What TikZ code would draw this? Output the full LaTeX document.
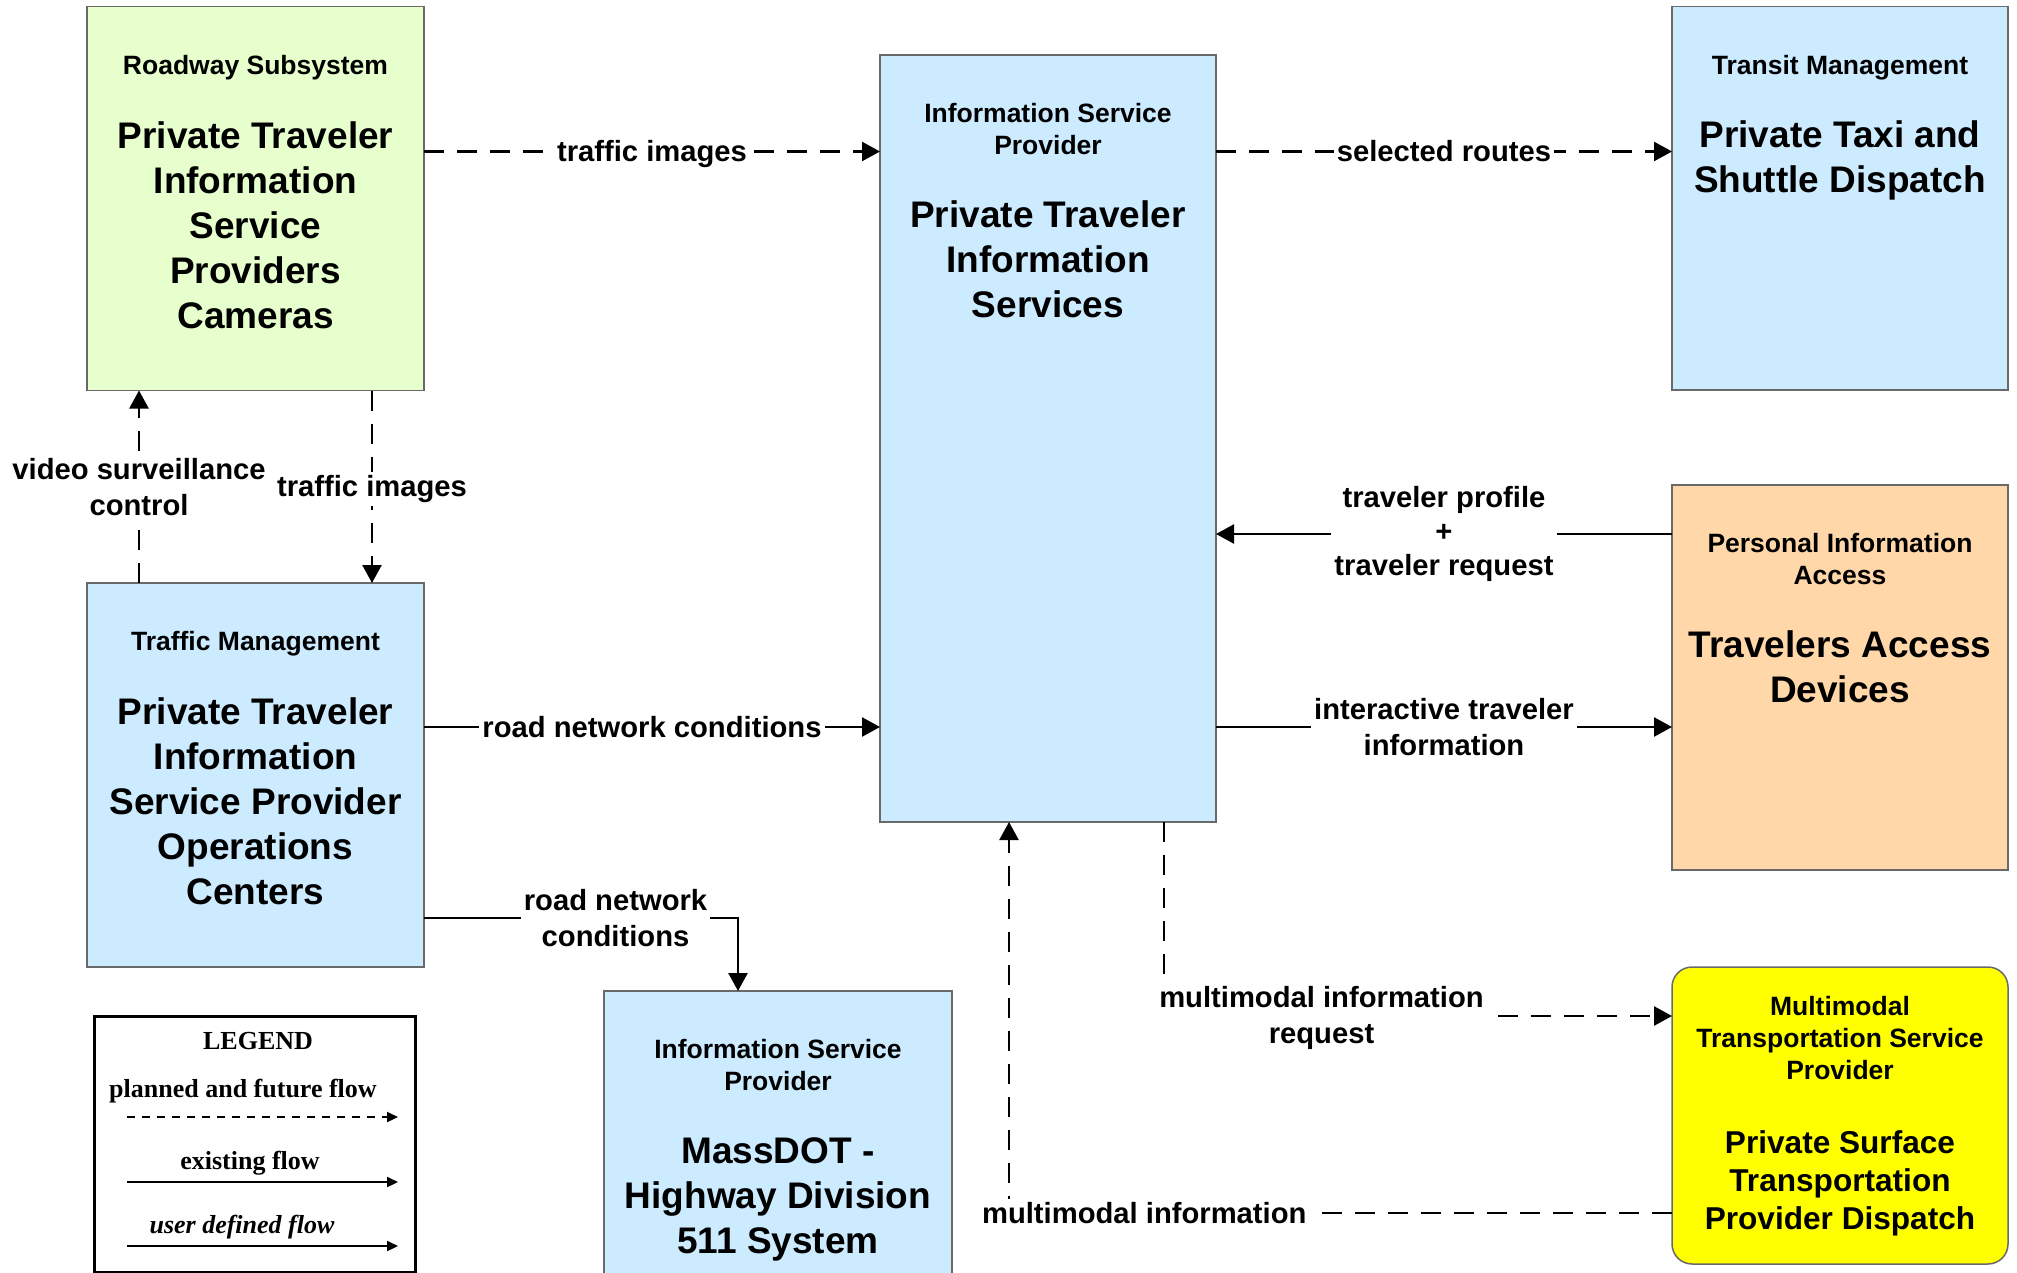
\documentclass[tikz,border=0pt]{standalone}
\usepackage{fontspec}
\setmainfont{Liberation Sans}
\newfontfamily\legendfont{Liberation Serif}
\usetikzlibrary{arrows.meta,calc}
\definecolor{gfill}{RGB}{230,255,204}
\definecolor{bfill}{RGB}{204,235,255}
\definecolor{ofill}{RGB}{255,215,168}
\definecolor{yfill}{RGB}{255,255,0}
\definecolor{boxline}{RGB}{105,105,105}
\begin{document}
\begin{tikzpicture}[x=0.5pt,y=-0.5pt,
  box/.style={draw=boxline,line width=0.75pt,rectangle,anchor=north west,inner sep=0pt,outer sep=0pt},
  hdr/.style={font=\fontsize{13.25}{16}\selectfont\bfseries,align=center,inner sep=0pt},
  big/.style={font=\fontsize{18.5}{22.5}\selectfont\bfseries,align=center,inner sep=0pt},
  bigy/.style={font=\fontsize{15.8}{19}\selectfont\bfseries,align=center,inner sep=0pt},
  lbl/.style={font=\fontsize{14.6}{18}\selectfont\bfseries,align=center,fill=white,inner sep=1.5pt},
  legt/.style={font=\legendfont\fontsize{13}{15}\selectfont\bfseries,align=center,inner sep=0pt},
  flow/.style={line width=1.25pt,-{Triangle[length=9pt,width=9.5pt]}},
  plan/.style={flow,dash pattern=on 10pt off 6.5pt},
  lflow/.style={line width=1.1pt,-{Triangle[length=5.5pt,width=5pt]}},
  lplan/.style={lflow,dash pattern=on 4pt off 3.5pt},
]
\useasboundingbox (0,0) rectangle (2017,1273);
\clip (0,0) rectangle (2017,1273);
\fill[white] (0,0) rectangle (2017,1273);

% boxes
\node[box,fill=gfill,minimum width=168.5pt,minimum height=192pt] (rs) at (87,6.5) {};
\node[box,fill=bfill,minimum width=168pt,minimum height=383.5pt] (isp) at (880,55) {};
\node[box,fill=bfill,minimum width=168pt,minimum height=191.75pt] (tr) at (1672,6.5) {};
\node[box,fill=bfill,minimum width=168.5pt,minimum height=192pt] (tm) at (87,583) {};
\node[box,fill=ofill,minimum width=168pt,minimum height=192.5pt] (pia) at (1672,485) {};
\node[box,fill=yfill,rounded corners=10pt,minimum width=168pt,minimum height=148.5pt] (mt) at (1672,967) {};
\node[box,fill=bfill,minimum width=174pt,minimum height=170pt] (md) at (604,991) {};
\node[draw=black,line width=1.5pt,anchor=north west,inner sep=0pt,outer sep=0pt,minimum width=160.5pt,minimum height=128pt] (leg) at (94,1016) {};

% box texts
\node[hdr] (rsh) at (255.5,68) {Roadway Subsystem};
\node[big] (rsb) at (255.5,225) {Private Traveler\\Information\\Service\\Providers\\Cameras};
\node[hdr] (isph) at (1048,129) {Information Service\\Provider};
\node[big] (ispb) at (1048,259) {Private Traveler\\Information\\Services};
\node[hdr] (trh) at (1840,68) {Transit Management};
\node[big] (trb) at (1840,160.5) {Private Taxi and\\Shuttle Dispatch};
\node[hdr] (tmh) at (255.5,644) {Traffic Management};
\node[big] (tmb) at (255.5,801) {Private Traveler\\Information\\Service Provider\\Operations\\Centers};
\node[hdr] (piah) at (1840,559) {Personal Information\\Access};
\node[big] (piab) at (1840,666.5) {Travelers Access\\Devices};
\node[hdr] (mth) at (1840,1038) {Multimodal\\Transportation Service\\Provider};
\node[bigy] (mtb) at (1840,1183.5) {Private Surface\\Transportation\\Provider Dispatch};
\node[hdr] (mdh) at (778,1065.5) {Information Service\\Provider};
\node[big] (mdb) at (778,1199) {MassDOT -\\Highway Division\\511 System};

% connectors
\coordinate (c1) at ($(rs.north east)+(0,145)$);
\draw[plan] (c1) -- (c1 -| isp.west) node[lbl,midway,yshift=-1.2pt] (l1) {traffic images};

\coordinate (c2) at ($(isp.north east)+(0,96.5)$);
\draw[plan] (c2) -- (c2 -| tr.west) node[lbl,midway] (l2) {selected routes};

\coordinate (c3) at ($(tm.north west)+(52,0)$);
\draw[plan] (c3) -- (c3 |- rs.south) node[lbl,midway] (l3) {video surveillance\\control};

\coordinate (c4) at ($(rs.south west)+(285,0)$);
\draw[plan] (c4) -- (c4 |- tm.north) node[lbl,midway,yshift=-1.2pt] (l4) {traffic images};

\coordinate (c5) at ($(pia.north west)+(0,49)$);
\draw[flow] (c5) -- (c5 -| isp.east) node[lbl,midway,font=\fontsize{14.6}{17}\selectfont\bfseries] (l5) {traveler profile\\+\\traveler request};

\coordinate (c6) at ($(isp.north east)+(0,672)$);
\draw[flow] (c6) -- (c6 -| pia.west) node[lbl,midway] (l6) {interactive traveler\\information};

\coordinate (c7) at ($(tm.north east)+(0,144)$);
\draw[flow] (c7) -- (c7 -| isp.west) node[lbl,midway] (l7) {road network conditions};

\coordinate (c8) at ($(tm.north east)+(0,335)$);
\coordinate (c8b) at ($(md.north west)+(134,0)$);
\draw[flow] (c8) -| (c8b) node[lbl,pos=0.305] (l8) {road network\\conditions};

\coordinate (c9) at ($(isp.south west)+(284,0)$);
\coordinate (c9b) at ($(mt.north west)+(0,49)$);
\draw[plan] (c9) |- (c9b) node[lbl,pos=0.655,yshift=-1.2pt] (l9) {multimodal information\\request};

\coordinate (c10) at ($(mt.north west)+(0,246)$);
\coordinate (c10b) at ($(isp.south west)+(129,0)$);
\draw[plan] (c10) -| (c10b) node[lbl,pos=0.398] (l10) {multimodal information};

% legend
\node[legt] (lg0) at (258,1041) {LEGEND};
\node[legt] (lg1) at (243,1091) {planned and future flow};
\node[legt] (lg2) at (250,1163) {existing flow};
\node[legt] (lg3) at (242,1227) {\itshape user defined flow};
\coordinate (la1) at (127,1117); \coordinate (lb1) at (398,1117);
\coordinate (la2) at (127,1182); \coordinate (lb2) at (398,1182);
\coordinate (la3) at (127,1246); \coordinate (lb3) at (398,1246);
\draw[lplan] (la1) -- (lb1);
\draw[lflow] (la2) -- (lb2);
\draw[lflow] (la3) -- (lb3);
\end{tikzpicture}
\end{document}
